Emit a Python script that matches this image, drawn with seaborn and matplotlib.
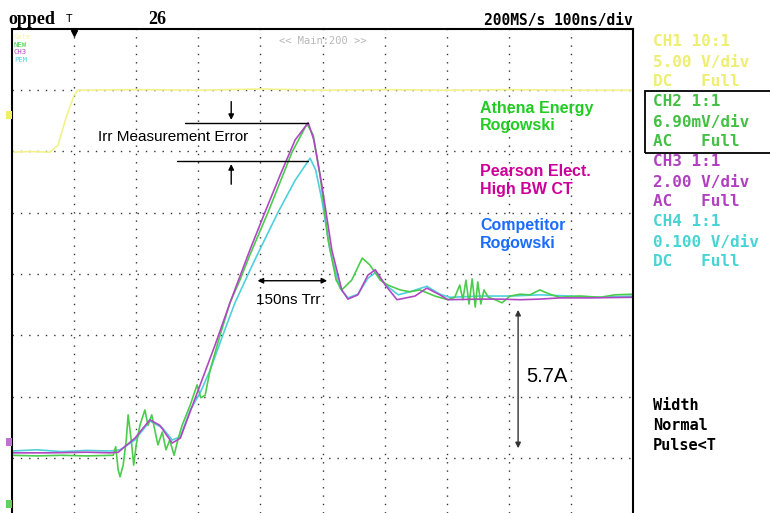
import numpy as np
import pandas as pd
import matplotlib
matplotlib.use("Agg")
import matplotlib.pyplot as plt
import seaborn as sns
from matplotlib.patches import Rectangle

# ---- data (time in ns from left edge of screen, level in vertical divisions) ----
gate_t = [0, 30, 61, 74, 87, 100, 106, 200, 300, 400, 500, 600, 700, 800, 900, 1000]
gate_y = [5.99, 6.00, 5.99, 6.10, 6.55, 6.92, 7.00, 7.01, 7.00, 7.02, 7.00, 7.01, 7.00, 7.01, 7.00, 7.00]

pearson_t = [0, 60, 120, 158, 171, 198, 222, 238, 258, 271, 303, 327, 351, 383, 407, 432, 456, 477,
             486, 499, 515, 531, 541, 557, 573, 585, 601, 620, 649, 668, 689, 702, 754, 786, 818, 850,
             882, 931, 1000]
pearson_y = [1.08, 1.08, 1.09, 1.08, 1.09, 1.32, 1.62, 1.53, 1.24, 1.32, 2.19, 2.84, 3.53, 4.39, 5.00,
             5.62, 6.19, 6.47, 6.19, 5.45, 4.39, 3.74, 3.59, 3.66, 3.98, 4.07, 3.82, 3.58, 3.64, 3.77,
             3.66, 3.58, 3.59, 3.59, 3.58, 3.59, 3.61, 3.61, 3.62]

athena_t = [0, 40, 80, 120, 163, 167, 171, 174, 179, 184, 187, 192, 196, 200, 206, 214, 219, 225, 230,
            235, 242, 248, 254, 261, 267, 274, 287, 298, 304, 311, 319, 335, 351, 367, 383, 412, 451,
            475, 485, 496, 509, 522, 531, 547, 564, 576, 593, 605, 625, 641, 657, 681, 702, 713, 721,
            726, 731, 736, 741, 746, 750, 755, 760, 767, 778, 789, 802, 818, 834, 850, 866, 882, 915,
            947, 971, 1000]
athena_y = [1.04, 1.03, 1.04, 1.03, 1.04, 1.18, 0.80, 0.69, 0.88, 1.29, 1.70, 1.29, 0.88, 1.21, 1.53,
            1.78, 1.53, 1.70, 1.45, 1.21, 1.42, 1.13, 1.29, 1.04, 1.29, 1.53, 1.86, 2.19, 1.98, 2.02,
            2.43, 3.00, 3.53, 3.90, 4.31, 5.00, 5.99, 6.45, 6.27, 5.62, 4.56, 3.90, 3.74, 3.90, 4.26,
            4.15, 3.90, 3.82, 3.74, 3.71, 3.74, 3.64, 3.58, 3.62, 3.82, 3.58, 3.90, 3.51, 3.92, 3.46,
            3.87, 3.51, 3.74, 3.62, 3.58, 3.53, 3.64, 3.67, 3.66, 3.74, 3.67, 3.62, 3.64, 3.62, 3.66,
            3.67]

competitor_t = [0, 40, 80, 120, 158, 174, 198, 222, 242, 258, 271, 287, 303, 319, 338, 359, 391, 428,
                456, 480, 489, 499, 512, 528, 541, 557, 573, 586, 602, 622, 641, 668, 689, 705, 754,
                802, 850, 899, 947, 1000]
competitor_y = [1.11, 1.13, 1.10, 1.12, 1.11, 1.13, 1.29, 1.60, 1.49, 1.29, 1.34, 1.78, 2.06, 2.43,
                2.96, 3.53, 4.23, 5.00, 5.53, 5.89, 5.70, 5.21, 4.39, 3.77, 3.61, 3.67, 3.93, 4.03,
                3.82, 3.66, 3.71, 3.80, 3.67, 3.62, 3.64, 3.64, 3.66, 3.64, 3.62, 3.64]

draw_order = ["Gate", "PEM", "NEW", "CH3"]
tag_order = ["Gate", "NEW", "CH3", "PEM"]
trace_colors = {"Gate": "#f2f28a", "PEM": "#4fd0dc", "NEW": "#4ccc4c", "CH3": "#b048c4"}
tag_colors = {"Gate": "#f4f4a8", "PEM": "#50d8e0", "NEW": "#40cc40", "CH3": "#b040c0"}

channel_lines = [("CH1 10:1", "Gate"), ("5.00 V/div", "Gate"), ("DC   Full", "Gate"),
                 ("CH2 1:1", "NEW"), ("6.90mV/div", "NEW"), ("AC   Full", "NEW"),
                 ("CH3 1:1", "CH3"), ("2.00 V/div", "CH3"), ("AC   Full", "CH3"),
                 ("CH4 1:1", "PEM"), ("0.100 V/div", "PEM"), ("DC   Full", "PEM")]
panel_colors = {"Gate": "#eeee70", "NEW": "#44c044", "CH3": "#b040c0", "PEM": "#48d4d4"}
trigger_lines = ["Width", "Normal", "Pulse<T"]
trigger_t = 100

frames = []
for name, t, y in [("Gate", gate_t, gate_y), ("PEM", competitor_t, competitor_y),
                   ("NEW", athena_t, athena_y), ("CH3", pearson_t, pearson_y)]:
    frames.append(pd.DataFrame({"t": t, "level": y, "trace": name}))
df = pd.concat(frames, ignore_index=True)

# ---- figure ----
sns.set_theme(style="white")
plt.rcParams["font.family"] = ["Liberation Sans", "DejaVu Sans"]

W, H = 770, 513
fig = plt.figure(figsize=(W / 100, H / 100), dpi=100)
fig.patch.set_facecolor("white")
ax = fig.add_axes([12 / W, 0, 621 / W, 1 - 29 / H])
ax.set_facecolor("white")

sns.lineplot(data=df, x="t", y="level", hue="trace", hue_order=draw_order,
             palette=trace_colors, estimator=None, sort=False, legend=False,
             linewidth=1.2, ax=ax)

ax.set_xlim(0, 1000)
ax.set_ylim((519 - 513) / 61.25, 8.0)
ax.set_xlabel("")
ax.set_ylabel("")
ax.set_xticks([])
ax.set_yticks([])

# dotted graticule
for gx in range(100, 1000, 100):
    ax.axvline(gx, color="#333333", lw=1.0, ls=(0, (1, 5)), zorder=0)
for gy in range(1, 8):
    ax.axhline(gy, color="#333333", lw=1.0, ls=(0, (1, 5)), zorder=0)

for s in ["left", "right", "top"]:
    ax.spines[s].set_visible(True)
    ax.spines[s].set_color("black")
    ax.spines[s].set_linewidth(1.5)
ax.spines["bottom"].set_visible(False)

# trigger marker
ax.plot([trigger_t], [7.93], marker="v", color="black", markersize=5, clip_on=False)

# channel tags in upper-left
for i, name in enumerate(tag_order):
    ax.text(3, 7.87 - i * 0.125, name, color=tag_colors[name],
            fontsize=5.2, family="DejaVu Sans Mono", va="center", ha="left")
ax.text(500, 7.80, "<< Main:200 >>", color="#b8b8b8", fontsize=7.5,
        family="DejaVu Sans Mono", ha="center", va="center")

# annotations
ann_kw = dict(color="black", lw=1.0)
ax.plot([279, 477], [6.47, 6.47], **ann_kw)
ax.plot([266, 477], [5.84, 5.84], **ann_kw)
ax.annotate("", xy=(353, 6.47), xytext=(353, 6.86),
            arrowprops=dict(arrowstyle="-|>", color="black", lw=1.0, mutation_scale=8))
ax.annotate("", xy=(353, 5.84), xytext=(353, 5.42),
            arrowprops=dict(arrowstyle="-|>", color="black", lw=1.0, mutation_scale=8))
ax.text(138, 6.24, "Irr Measurement Error", fontsize=11, color="black", va="center", ha="left")

ax.annotate("", xy=(391, 3.89), xytext=(512, 3.89),
            arrowprops=dict(arrowstyle="<|-|>", color="black", lw=1.0, mutation_scale=8))
ax.text(445, 3.58, "150ns Trr", fontsize=11, color="black", va="center", ha="center")

ax.annotate("", xy=(815, 3.46), xytext=(815, 1.11),
            arrowprops=dict(arrowstyle="<|-|>", color="#333333", lw=1.0, mutation_scale=8))
ax.text(828, 2.32, "5.7A", fontsize=14.5, color="black", va="center", ha="left")

ax.text(754, 6.82, "Athena Energy\nRogowski", color="#22cc22", fontsize=11.5, weight="bold",
        va="top", ha="left", linespacing=1.15)
ax.text(754, 5.79, "Pearson Elect.\nHigh BW CT", color="#cc0099", fontsize=11.5, weight="bold",
        va="top", ha="left", linespacing=1.2)
ax.text(754, 4.91, "Competitor\nRogowski", color="#1a6cff", fontsize=11.5, weight="bold",
        va="top", ha="left", linespacing=1.2)

# header
fig.text(8 / W, 1 - 20 / H, "opped", family="Liberation Serif", weight="bold", fontsize=13,
         va="center", ha="left", color="black")
fig.text(66 / W, 1 - 19 / H, "T", family="DejaVu Sans Mono", fontsize=8, va="center",
         ha="left", color="black")
fig.text(148 / W, 1 - 20 / H, "26", family="Liberation Serif", weight="bold", fontsize=13,
         va="center", ha="left", color="black")
fig.text(633 / W, 1 - 20 / H, "200MS/s 100ns/div", family="DejaVu Sans Mono", weight="bold",
         fontsize=10.5, va="center", ha="right", color="black")

# right panel
for i, (txt, ch) in enumerate(channel_lines):
    fig.text(653 / W, 1 - (42 + i * 20) / H, txt, family="DejaVu Sans Mono", weight="bold",
             fontsize=11.5, va="center", ha="left", color=panel_colors[ch])
fig.patches.append(Rectangle((645 / W, 1 - 153 / H), 130 / W, 62 / H, transform=fig.transFigure,
                             fill=False, edgecolor="black", lw=1.3))
for i, txt in enumerate(trigger_lines):
    fig.text(653 / W, 1 - (405 + i * 20) / H, txt, family="DejaVu Sans Mono", weight="bold",
             fontsize=11, va="center", ha="left", color="black")

# small channel markers on left edge
fig.patches.append(Rectangle((6 / W, 1 - 119 / H), 6 / W, 8 / H, transform=fig.transFigure,
                             color="#f0f060", lw=0))
fig.patches.append(Rectangle((6 / W, 1 - 446 / H), 6 / W, 8 / H, transform=fig.transFigure,
                             color="#c070d0", lw=0))
fig.patches.append(Rectangle((6 / W, 1 - 508 / H), 6 / W, 8 / H, transform=fig.transFigure,
                             color="#60d060", lw=0))

fig.savefig("out.png", dpi=100, facecolor="white")
